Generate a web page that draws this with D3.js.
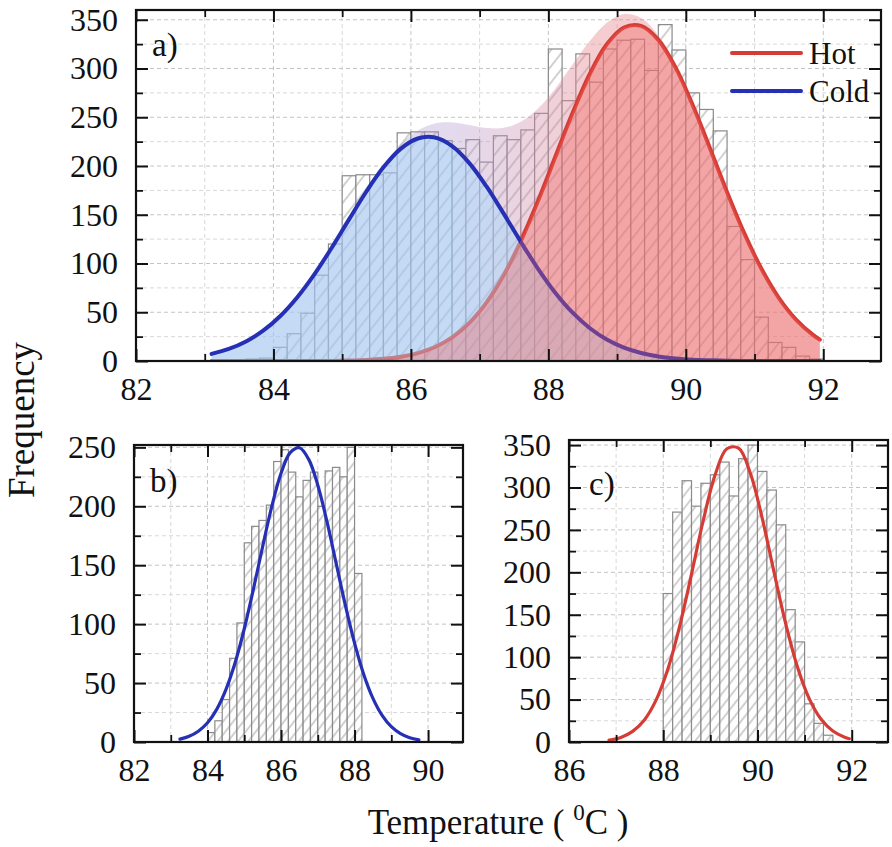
<!DOCTYPE html>
<html>
<head>
<meta charset="utf-8">
<script src="https://cdn.jsdelivr.net/npm/d3@7"></script>
<style>
  body { margin: 0; background: #fff; }
  svg text { font-family: "Liberation Serif", "Times New Roman", serif; fill: #111; }
</style>
</head>
<body>
<svg id="chart" width="892" height="847"></svg>
<script>
const BIN = 0.2;

// panel a: all runs
const binsA = [83.0, 83.2, 83.4, 83.6, 83.8, 84.0, 84.2, 84.4, 84.6, 84.8, 85.0, 85.2, 85.4, 85.6, 85.8,
  86.0, 86.2, 86.4, 86.6, 86.8, 87.0, 87.2, 87.4, 87.6, 87.8, 88.0, 88.2, 88.4, 88.6, 88.8,
  89.0, 89.2, 89.4, 89.6, 89.8, 90.0, 90.2, 90.4, 90.6, 90.8, 91.0, 91.2, 91.4, 91.6, 91.8];
const countsA = [0, 0, 1, 2, 3, 14, 28, 49, 88, 120, 190, 191, 191, 193, 234,
  235, 235, 226, 218, 227, 204, 231, 227, 237, 254, 320, 267, 315, 286, 320,
  329, 330, 298, 345, 319, 275, 258, 236, 138, 104, 45, 19, 14, 5, 2];
const fitXA = [83.1, 83.35, 83.6, 83.85, 84.1, 84.35, 84.6, 84.85, 85.1, 85.35, 85.6, 85.85,
  86.1, 86.35, 86.6, 86.85, 87.1, 87.35, 87.6, 87.85, 88.1, 88.35, 88.6, 88.85,
  89.1, 89.35, 89.6, 89.85, 90.1, 90.35, 90.6, 90.85, 91.1, 91.35, 91.6, 91.85, 91.95];
const coldA = [7.3, 12.4, 20.1, 31.1, 46.2, 65.7, 89.4, 116.4, 145.3, 173.6, 198.6, 217.6,
  228.2, 229.2, 220.4, 203.0, 179.0, 151.1, 122.1, 94.6, 70.1, 49.8, 33.8, 22.0,
  13.7, 8.2, 4.7, 2.6, 1.3, 0.7, 0.3, 0.1, 0, 0, 0, 0, 0];
const hotA = [0, 0, 0, 0, 0, 0, 0, 0.1, 0.5, 1.1, 2.2, 4.4,
  8.1, 14.4, 24.3, 39.1, 60.1, 88.1, 123.3, 164.4, 209.2, 254.0, 294.1, 324.8,
  342.1, 343.7, 329.4, 301.1, 262.5, 218.4, 173.2, 131.1, 94.6, 65.1, 42.8, 26.8, 21.9];
const sumA = [7.3, 12.4, 20.1, 31.1, 46.2, 65.7, 89.4, 116.5, 145.8, 174.7, 200.8, 222.0,
  236.3, 243.6, 244.7, 242.1, 239.1, 239.2, 245.4, 259.0, 279.3, 303.8, 327.9, 346.8,
  355.8, 351.9, 334.1, 303.7, 263.8, 219.1, 173.5, 131.2, 94.6, 65.1, 42.8, 26.8, 21.9];

// panel b: cold runs
const binsB = [84.0, 84.2, 84.4, 84.6, 84.8, 85.0, 85.2, 85.4, 85.6, 85.8, 86.0,
  86.2, 86.4, 86.6, 86.8, 87.0, 87.2, 87.4, 87.6, 87.8, 88.0];
const countsB = [8, 18, 36, 71, 101, 169, 183, 188, 201, 238, 248,
  229, 208, 222, 229, 200, 230, 233, 225, 250, 143];
const fitXB = [83.25, 83.5, 83.75, 84.0, 84.25, 84.5, 84.75, 85.0, 85.25, 85.5, 85.75, 86.0,
  86.25, 86.5, 86.75, 87.0, 87.25, 87.5, 87.75, 88.0, 88.25, 88.5, 88.75, 89.0, 89.25, 89.5, 89.75];
const coldB = [2.4, 4.8, 9.1, 16.3, 27.7, 44.4, 67.2, 96.1, 129.9, 165.9, 200.1, 228.0,
  245.5, 249.7, 240.0, 217.9, 186.9, 151.5, 116.0, 83.9, 57.3, 37.0, 22.6, 13.0, 7.1, 3.6, 1.8];

// panel c: hot runs
const binsC = [88.0, 88.2, 88.4, 88.6, 88.8, 89.0, 89.2, 89.4, 89.6, 89.8,
  90.0, 90.2, 90.4, 90.6, 90.8, 91.0, 91.2, 91.4];
const countsC = [175, 271, 308, 278, 305, 315, 330, 290, 334, 350,
  319, 297, 256, 156, 118, 45, 22, 8];
const fitXC = [86.85, 87.1, 87.35, 87.6, 87.85, 88.1, 88.35, 88.6, 88.85, 89.1, 89.35,
  89.6, 89.85, 90.1, 90.35, 90.6, 90.85, 91.1, 91.35, 91.6, 91.85, 91.95];
const hotC = [2.2, 5.4, 12.5, 26.0, 49.6, 86.3, 136.9, 198.0, 261.4, 314.7, 345.7,
  346.3, 316.5, 263.8, 200.6, 139.2, 88.1, 50.8, 26.7, 12.9, 5.6, 3.9];

const ticks350 = [0, 50, 100, 150, 200, 250, 300, 350];
const minor350 = [25, 75, 125, 175, 225, 275, 325];
const ticks250 = [0, 50, 100, 150, 200, 250];
const minor250 = [25, 75, 125, 175, 225];

const HOT = "#d63c36";
const COLD = "#2530b4";
const TICK_FONT = 32;

const svg = d3.select("#chart");
const defs = svg.append("defs");

function hatch(id, gap) {
  const p = defs.append("pattern")
    .attr("id", id)
    .attr("patternUnits", "userSpaceOnUse")
    .attr("width", gap)
    .attr("height", gap)
    .attr("patternTransform", "rotate(38)");
  p.append("rect").attr("width", gap).attr("height", gap).attr("fill", "#fff");
  p.append("line")
    .attr("x1", gap / 2).attr("x2", gap / 2)
    .attr("y1", 0).attr("y2", gap)
    .attr("stroke", "#999").attr("stroke-width", 0.9);
}
hatch("hatchA", 10);
hatch("hatchB", 8);

function makePanel(o) {
  const x = d3.scaleLinear().domain(o.xDomain).range([o.left, o.right]);
  const y = d3.scaleLinear().domain(o.yDomain).range([o.bottom, o.top]);
  const g = svg.append("g");

  const clipId = "clip-" + o.name;
  defs.append("clipPath").attr("id", clipId)
    .append("rect")
    .attr("x", o.left).attr("y", o.top)
    .attr("width", o.right - o.left).attr("height", o.bottom - o.top);

  // grid
  const grid = g.append("g");
  grid.selectAll(".gx").data(o.xMajor.concat(o.xMinor).filter(v => x(v) > o.left + 2 && x(v) < o.right - 2))
    .enter().append("line")
    .attr("x1", d => x(d)).attr("x2", d => x(d))
    .attr("y1", o.top).attr("y2", o.bottom)
    .attr("stroke", d => o.xMajor.includes(d) ? "#c4c4c4" : "#d8d8d8")
    .attr("stroke-dasharray", "4,3");
  grid.selectAll(".gy").data(o.yMajor.concat(o.yMinor).filter(v => v > 0))
    .enter().append("line")
    .attr("x1", o.left).attr("x2", o.right)
    .attr("y1", d => y(d)).attr("y2", d => y(d))
    .attr("stroke", d => o.yMajor.includes(d) ? "#c4c4c4" : "#d8d8d8")
    .attr("stroke-dasharray", "4,3");

  // histogram
  const bars = o.bins.map((b, i) => ({ x0: b, x1: b + BIN, n: o.counts[i] })).filter(d => d.n > 0);
  g.append("g").selectAll("rect").data(bars).enter().append("rect")
    .attr("x", d => x(d.x0))
    .attr("width", d => x(d.x1) - x(d.x0))
    .attr("y", d => y(d.n))
    .attr("height", d => y(0) - y(d.n))
    .attr("fill", `url(#${o.hatch})`)
    .attr("stroke", "#8a8a8a")
    .attr("stroke-width", 1.2);

  const inner = g.append("g").attr("clip-path", `url(#${clipId})`);
  return { x, y, g, inner, o };
}

function drawAxes(p) {
  const { x, y, g, o } = p;
  const ax = g.append("g").attr("class", "axes");
  const style = (sel, w) => {
    sel.select(".domain").remove();
    sel.selectAll(".tick line").attr("stroke", "#111").attr("stroke-width", w);
    sel.selectAll(".tick text").attr("font-size", TICK_FONT).attr("fill", "#111")
      .attr("font-family", '"Liberation Serif", serif');
  };
  // bottom
  ax.append("g").attr("transform", `translate(0,${o.bottom})`)
    .call(d3.axisBottom(x).tickValues(o.xMajor).tickSize(-12).tickPadding(16).tickFormat(d3.format("d")))
    .call(s => style(s, 2));
  ax.append("g").attr("transform", `translate(0,${o.bottom})`)
    .call(d3.axisBottom(x).tickValues(o.xMinor).tickSize(-7).tickFormat(""))
    .call(s => style(s, 1.8));
  // top
  ax.append("g").attr("transform", `translate(0,${o.top})`)
    .call(d3.axisTop(x).tickValues(o.xMajor).tickSize(-12).tickFormat(""))
    .call(s => style(s, 2));
  ax.append("g").attr("transform", `translate(0,${o.top})`)
    .call(d3.axisTop(x).tickValues(o.xMinor).tickSize(-7).tickFormat(""))
    .call(s => style(s, 1.8));
  // left
  ax.append("g").attr("transform", `translate(${o.left},0)`)
    .call(d3.axisLeft(y).tickValues(o.yMajor).tickSize(-12).tickPadding(18))
    .call(s => style(s, 2));
  ax.append("g").attr("transform", `translate(${o.left},0)`)
    .call(d3.axisLeft(y).tickValues(o.yMinor).tickSize(-7).tickFormat(""))
    .call(s => style(s, 1.8));
  // right
  ax.append("g").attr("transform", `translate(${o.right},0)`)
    .call(d3.axisRight(y).tickValues(o.yMajor).tickSize(-12).tickFormat(""))
    .call(s => style(s, 2));
  ax.append("g").attr("transform", `translate(${o.right},0)`)
    .call(d3.axisRight(y).tickValues(o.yMinor).tickSize(-7).tickFormat(""))
    .call(s => style(s, 1.8));

  g.append("rect")
    .attr("x", o.left).attr("y", o.top)
    .attr("width", o.right - o.left).attr("height", o.bottom - o.top)
    .attr("fill", "none").attr("stroke", "#111").attr("stroke-width", 2.2);

  g.append("text")
    .attr("x", o.labelX).attr("y", o.labelY)
    .attr("font-size", 33)
    .text(o.label);
}

const smooth = d3.curveCatmullRom.alpha(0.5);

function curve(p, xs, ys, color, width) {
  const line = d3.line().x((d, i) => p.x(xs[i])).y(d => p.y(d)).curve(smooth);
  p.inner.append("path").datum(ys)
    .attr("d", line).attr("fill", "none")
    .attr("stroke", color).attr("stroke-width", width)
    .attr("stroke-linecap", "round");
}

function area(p, xs, ys, fill) {
  const a = d3.area().x((d, i) => p.x(xs[i])).y0(p.y(0)).y1(d => p.y(d)).curve(smooth);
  p.inner.append("path").datum(ys).attr("d", a).attr("fill", fill).attr("stroke", "none");
}

// ---- panel a
const pa = makePanel({
  name: "a", left: 136, right: 881, top: 10, bottom: 361,
  xDomain: [82, 92.84], yDomain: [0, 360],
  xMajor: [82, 84, 86, 88, 90, 92], xMinor: [83, 85, 87, 89, 91],
  yMajor: ticks350, yMinor: minor350,
  bins: binsA, counts: countsA, hatch: "hatchA",
  label: "a)", labelX: 152, labelY: 56
});

// envelope fades from lavender (cold side) to pink (hot side)
const env = defs.append("linearGradient")
  .attr("id", "envFill")
  .attr("gradientUnits", "userSpaceOnUse")
  .attr("x1", pa.x(86.6)).attr("x2", pa.x(88.6))
  .attr("y1", 0).attr("y2", 0);
env.append("stop").attr("offset", 0).attr("stop-color", "rgb(175,150,205)").attr("stop-opacity", 0.35);
env.append("stop").attr("offset", 1).attr("stop-color", "rgb(230,130,140)").attr("stop-opacity", 0.4);

// layering: the hot curve sits under the cold fill, the cold curve under the hot fill
area(pa, fitXA, sumA, "url(#envFill)");
curve(pa, fitXA, hotA, HOT, 4);
area(pa, fitXA, coldA, "rgba(160,218,255,0.45)");
curve(pa, fitXA, coldA, COLD, 4);
area(pa, fitXA, hotA, "rgba(240,95,90,0.36)");
drawAxes(pa);

// legend
const legend = svg.append("g");
[{ name: "Hot", color: HOT, y: 53 }, { name: "Cold", color: COLD, y: 91 }].forEach(d => {
  legend.append("line")
    .attr("x1", 732).attr("x2", 801).attr("y1", d.y).attr("y2", d.y)
    .attr("stroke", d.color).attr("stroke-width", 4).attr("stroke-linecap", "round");
  legend.append("text")
    .attr("x", 809).attr("y", d.y).attr("dy", "0.35em")
    .attr("font-size", 31)
    .text(d.name);
});

// ---- panel b
const pb = makePanel({
  name: "b", left: 134, right: 463, top: 445, bottom: 742,
  xDomain: [82, 90.95], yDomain: [0, 252],
  xMajor: [82, 84, 86, 88, 90], xMinor: [83, 85, 87, 89],
  yMajor: ticks250, yMinor: minor250,
  bins: binsB, counts: countsB, hatch: "hatchB",
  label: "b)", labelX: 150, labelY: 492
});
curve(pb, fitXB, coldB, COLD, 3.2);
drawAxes(pb);

// ---- panel c
const pc = makePanel({
  name: "c", left: 569, right: 888, top: 440, bottom: 742,
  xDomain: [86, 92.77], yDomain: [0, 356],
  xMajor: [86, 88, 90, 92], xMinor: [87, 89, 91],
  yMajor: ticks350, yMinor: minor350,
  bins: binsC, counts: countsC, hatch: "hatchB",
  label: "c)", labelX: 589, labelY: 495
});
curve(pc, fitXC, hotC, HOT, 3.2);
drawAxes(pc);

// axis titles
svg.append("text")
  .attr("transform", "translate(34,420) rotate(-90)")
  .attr("text-anchor", "middle")
  .attr("font-size", 37)
  .text("Frequency");

const xt = svg.append("text")
  .attr("x", 498).attr("y", 834)
  .attr("text-anchor", "middle")
  .attr("font-size", 35);
xt.append("tspan").text("Temperature ( ");
xt.append("tspan").attr("font-size", 23).attr("dy", -14).text("0");
xt.append("tspan").attr("dy", 14).text("C )");
</script>
</body>
</html>
